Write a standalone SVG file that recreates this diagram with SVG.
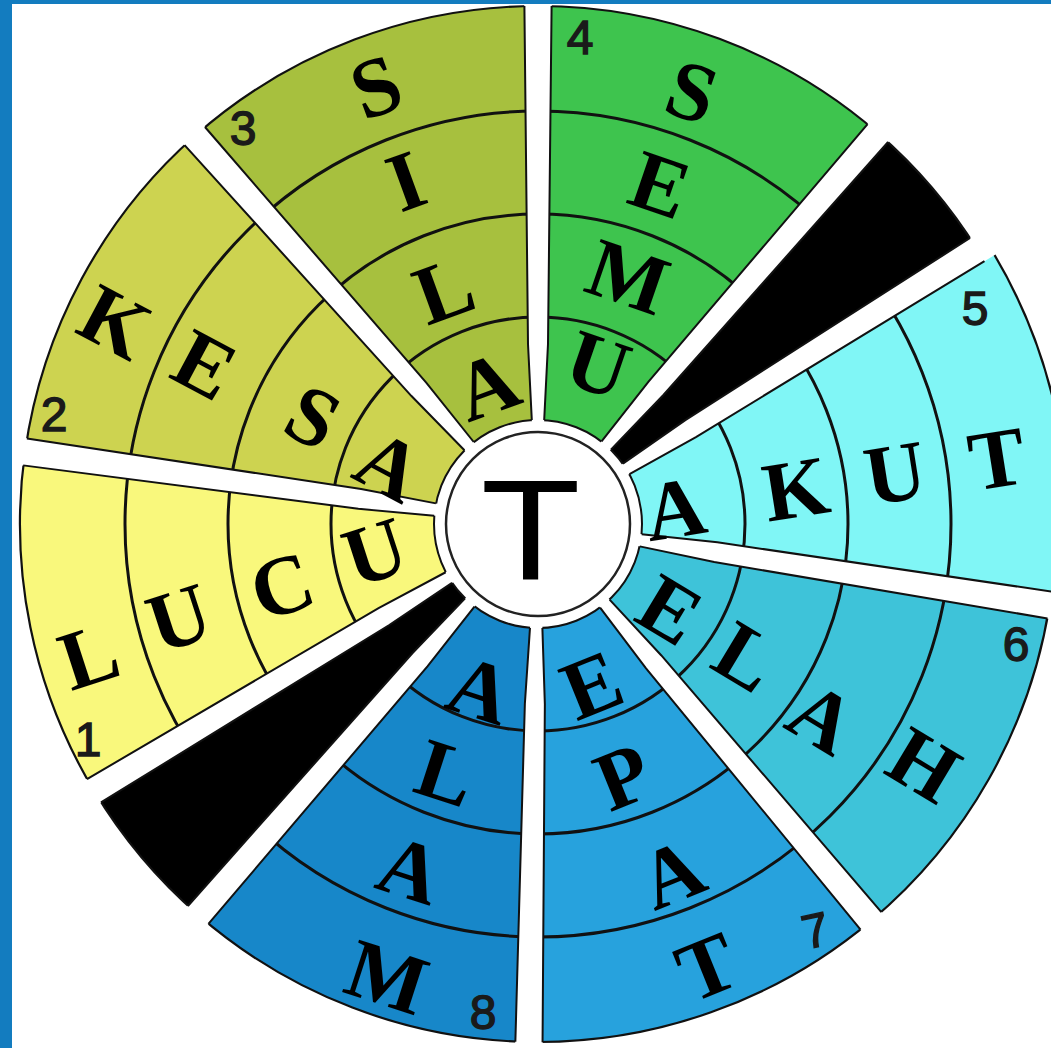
<svg xmlns="http://www.w3.org/2000/svg" width="1051" height="1048" viewBox="0 0 1051 1048">
<style>
.w{stroke:#111;stroke-width:2.2;stroke-linejoin:round}
.ring{fill:none;stroke:#111;stroke-width:3}
.ltr{font-family:"Liberation Serif","Times New Roman",serif;font-weight:bold;font-size:84px;text-anchor:middle;fill:#000}
.num{font-family:"Liberation Sans",Arial,sans-serif;font-size:48px;text-anchor:middle;fill:#1a1a1a;stroke:#1a1a1a;stroke-width:1.4}
.edge{fill:none;stroke:#111;stroke-width:2}
.frame{fill:#137cbf}
</style>
<defs>
<path id="p4" d="M538,524 L538,6 A518,518 0 0 1 877.9,133.1 Z"/>
<path id="pb1" d="M538,524 L877.9,133.1 A518,518 0 0 1 977.3,249.5 Z"/>
<path id="p5" d="M538,524 L987.4,243.2 A530,530 0 0 1 1061.5,606.9 Z"/>
<path id="p6" d="M538,524 L1049.6,605 A518,518 0 0 1 871,920.8 Z"/>
<path id="p7" d="M538,524 L871,920.8 A518,518 0 0 1 529,1041.9 Z"/>
<path id="p8" d="M538,524 L529,1041.9 A518,518 0 0 1 198.1,914.9 Z"/>
<path id="pb2" d="M538,524 L198.1,914.9 A518,518 0 0 1 94,790.8 Z"/>
<path id="p1" d="M538,524 L94,790.8 A518,518 0 0 1 25,451.9 Z"/>
<path id="p2" d="M538,524 L25,451.9 A518,518 0 0 1 194.8,136 Z"/>
<path id="p3" d="M538,524 L194.8,136 A518,518 0 0 1 538,6 Z"/>
<g id="rings">
<circle cx="538" cy="524" r="207" class="ring"/>
<circle cx="538" cy="524" r="310" class="ring"/>
<circle cx="538" cy="524" r="413" class="ring"/>
</g>
<clipPath id="c1"><use href="#p1"/></clipPath>
<clipPath id="c2"><use href="#p2"/></clipPath>
<clipPath id="c3"><use href="#p3"/></clipPath>
<clipPath id="c4"><use href="#p4"/></clipPath>
<clipPath id="c5"><use href="#p5"/></clipPath>
<clipPath id="c6"><use href="#p6"/></clipPath>
<clipPath id="c7"><use href="#p7"/></clipPath>
<clipPath id="c8"><use href="#p8"/></clipPath>
<g id="gap">
<polygon points="100,-6 180,-10 540,-14 540,14 180,10 100,6" fill="#fff"/>
<polyline class="edge" points="104,-6.2 180,-10 518,-13.6"/>
<polyline class="edge" points="104,6.2 180,10 518,13.6"/>
</g>
</defs>

<rect x="0" y="0" width="1051" height="1048" fill="#fff"/>

<g id="sector1">
<use href="#p1" class="w" fill="#f9f87c"/>
<g clip-path="url(#c1)"><use href="#rings"/></g>
</g>
<g id="sector2">
<use href="#p2" class="w" fill="#cdd350"/>
<g clip-path="url(#c2)"><use href="#rings"/></g>
</g>
<g id="sector3">
<use href="#p3" class="w" fill="#a7c03e"/>
<g clip-path="url(#c3)"><use href="#rings"/></g>
</g>
<g id="sector4">
<use href="#p4" class="w" fill="#3ec44e"/>
<g clip-path="url(#c4)"><use href="#rings"/></g>
</g>
<g id="sector5">
<use href="#p5" class="w" fill="#80f6f6"/>
<g clip-path="url(#c5)"><use href="#rings"/></g>
</g>
<g id="sector6">
<use href="#p6" class="w" fill="#3ec3d9"/>
<g clip-path="url(#c6)"><use href="#rings"/></g>
</g>
<g id="sector7">
<use href="#p7" class="w" fill="#27a2dd"/>
<g clip-path="url(#c7)"><use href="#rings"/></g>
</g>
<g id="sector8">
<use href="#p8" class="w" fill="#1787c9"/>
<g clip-path="url(#c8)"><use href="#rings"/></g>
</g>
<g id="black1"><use href="#pb1" class="w" fill="#000"/></g>
<g id="black2"><use href="#pb2" class="w" fill="#000"/></g>

<circle cx="538" cy="524" r="104" fill="#fff" stroke="#111" stroke-width="2"/>

<g id="gaps">
<use href="#gap" transform="translate(538 524) rotate(-90)"/>
<use href="#gap" transform="translate(538 524) rotate(-49)"/>
<use href="#gap" transform="translate(538 524) rotate(-32)"/>
<use href="#gap" transform="translate(538 524) rotate(9)"/>
<use href="#gap" transform="translate(538 524) rotate(50)"/>
<use href="#gap" transform="translate(538 524) rotate(91)"/>
<use href="#gap" transform="translate(538 524) rotate(131)"/>
<use href="#gap" transform="translate(538 524) rotate(149)"/>
<use href="#gap" transform="translate(538 524) rotate(188)"/>
<use href="#gap" transform="translate(538 524) rotate(228.5)"/>
</g>

<g id="center">
<circle cx="538" cy="524" r="92" fill="#fff" stroke="#222" stroke-width="2.5"/>
<text transform="translate(530.5 580) scale(1.15 1)" text-anchor="middle" font-family="Liberation Sans, Arial, sans-serif" font-size="142" fill="#000">T</text>
</g>

<g id="labels1">
<text class="ltr" transform="translate(89 656) rotate(-18)" y="28">L</text>
<text class="ltr" transform="translate(179 618) rotate(-18)" y="28">U</text>
<text class="ltr" transform="translate(282 586) rotate(-18)" y="28">C</text>
<text class="ltr" transform="translate(375 552) rotate(-18)" y="28">U</text>
<text class="num" x="88" y="756">1</text>
</g>
<g id="labels2">
<text class="ltr" transform="translate(115 322) rotate(28)" y="28">K</text>
<text class="ltr" transform="translate(205 365) rotate(28)" y="28">E</text>
<text class="ltr" transform="translate(313 417) rotate(28)" y="28">S</text>
<text class="ltr" transform="translate(389 466) rotate(28)" y="28">A</text>
<text class="num" x="54" y="431">2</text>
</g>
<g id="labels3">
<text class="ltr" transform="translate(376 87) rotate(-20)" y="28">S</text>
<text class="ltr" transform="translate(406 181) rotate(-20)" y="28">I</text>
<text class="ltr" transform="translate(444 290) rotate(-20)" y="28">L</text>
<text class="ltr" transform="translate(487 386) rotate(-20)" y="28">A</text>
<text class="num" x="243" y="145">3</text>
</g>
<g id="labels4">
<text class="ltr" transform="translate(692 92) rotate(19)" y="28">S</text>
<text class="ltr" transform="translate(660 185) rotate(19)" y="28">E</text>
<text class="ltr" transform="translate(628 277) rotate(19)" y="28">M</text>
<text class="ltr" transform="translate(598 365) rotate(19)" y="28">U</text>
<text class="num" x="580" y="54">4</text>
</g>
<g id="labels5">
<text class="ltr" transform="translate(675 509) rotate(-9)" y="28">A</text>
<text class="ltr" transform="translate(796 489) rotate(-9)" y="28">K</text>
<text class="ltr" transform="translate(895 473) rotate(-9)" y="28">U</text>
<text class="ltr" transform="translate(997 459) rotate(-9)" y="28">T</text>
<text class="num" x="975" y="325">5</text>
</g>
<g id="labels6">
<text class="ltr" transform="translate(670 610) rotate(31)" y="28">E</text>
<text class="ltr" transform="translate(746 657) rotate(31)" y="28">L</text>
<text class="ltr" transform="translate(822 718) rotate(31)" y="28">A</text>
<text class="ltr" transform="translate(924 765) rotate(31)" y="28">H</text>
<text class="num" x="1016" y="661">6</text>
</g>
<g id="labels7">
<text class="ltr" transform="translate(592 685) rotate(-22)" y="28">E</text>
<text class="ltr" transform="translate(623 777) rotate(-22)" y="28">P</text>
<text class="ltr" transform="translate(672 874) rotate(-22)" y="28">A</text>
<text class="ltr" transform="translate(707 967) rotate(-22)" y="28">T</text>
<text class="num" transform="rotate(-12 815 929)" x="815" y="947">7</text>
</g>
<g id="labels8">
<text class="ltr" transform="translate(480 690) rotate(18)" y="28">A</text>
<text class="ltr" transform="translate(446 773) rotate(18)" y="28">L</text>
<text class="ltr" transform="translate(410 870) rotate(18)" y="28">A</text>
<text class="ltr" transform="translate(387 977) rotate(18)" y="28">M</text>
<text class="num" x="483" y="1029">8</text>
</g>

<g id="frame">
<rect class="frame" x="0" y="0" width="12" height="1048"/>
<rect class="frame" x="0" y="0" width="1051" height="4"/>
</g>
</svg>
